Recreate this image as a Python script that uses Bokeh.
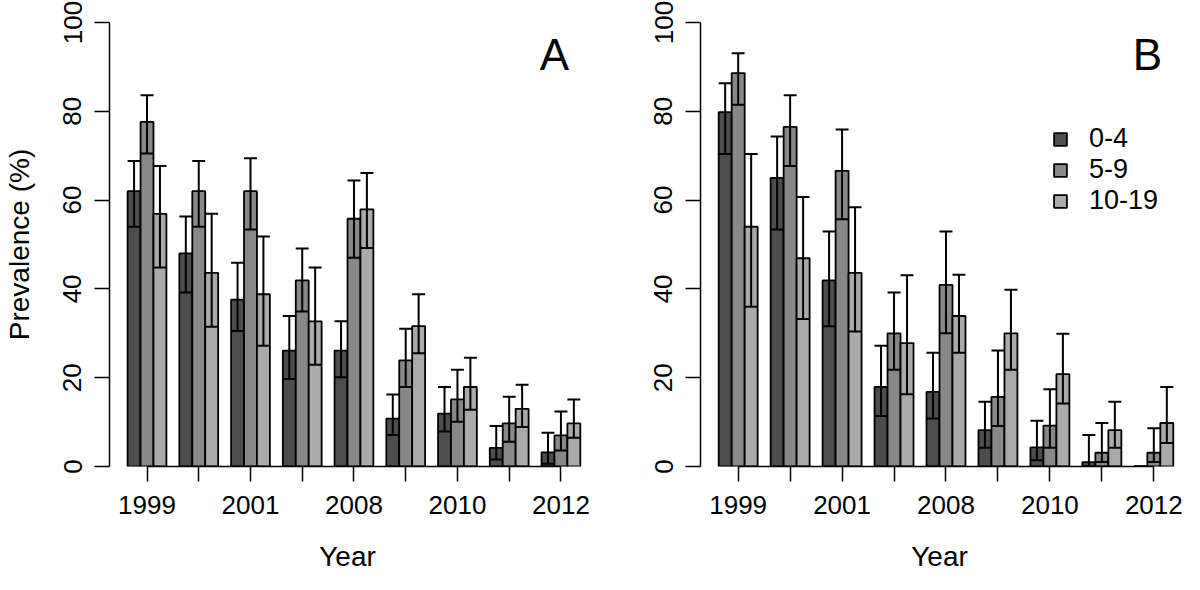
from bokeh.plotting import figure
from bokeh.models import (FixedTicker, Label, Legend, LegendItem,
                          ColumnDataSource, Range1d)
from bokeh.layouts import row
from bokeh.embed import file_html
from bokeh.resources import INLINE

# ---------------- data ----------------
years = ["1999", "2000", "2001", "2004", "2008", "2009", "2010", "2011", "2012"]
shown_years = ["1999", "2001", "2008", "2010", "2012"]
age_groups = ["0-4", "5-9", "10-19"]
colors = ["#4d4d4d", "#888888", "#aaaaaa"]
y_ticks = [0, 20, 40, 60, 80, 100]

# Panel A
A_mean_0_4 = [62.0, 48.0, 37.6, 26.1, 26.1, 10.8, 11.9, 4.2, 3.2]
A_low_0_4 = [54.0, 39.2, 30.5, 19.7, 20.1, 7.1, 7.9, 1.6, 0.6]
A_high_0_4 = [68.8, 56.3, 45.9, 33.9, 32.7, 16.2, 17.9, 9.1, 7.6]
A_mean_5_9 = [77.6, 62.0, 62.0, 41.9, 55.8, 23.9, 15.1, 9.7, 7.0]
A_low_5_9 = [70.5, 54.0, 53.4, 34.9, 47.0, 17.9, 10.1, 5.6, 3.6]
A_high_5_9 = [83.6, 68.8, 69.4, 49.1, 64.4, 31.0, 21.8, 15.7, 12.4]
A_mean_10_19 = [56.9, 43.6, 38.8, 32.7, 57.9, 31.6, 17.9, 13.0, 9.7]
A_low_10_19 = [44.8, 31.5, 27.2, 22.9, 49.2, 25.5, 12.8, 8.9, 6.5]
A_high_10_19 = [67.7, 56.9, 51.8, 44.8, 66.1, 38.8, 24.5, 18.4, 15.1]

# Panel B
B_mean_0_4 = [79.8, 65.0, 41.9, 17.9, 16.8, 8.2, 4.3, 1.0, 0.0]
B_low_0_4 = [70.4, 53.4, 31.6, 11.4, 10.8, 4.2, 1.4, 0.0, 0.0]
B_high_0_4 = [86.3, 74.3, 52.9, 27.2, 25.6, 14.6, 10.3, 7.1, 0.0]
B_mean_5_9 = [88.6, 76.5, 66.6, 30.0, 40.9, 15.7, 9.2, 3.1, 3.1]
B_low_5_9 = [81.5, 67.7, 55.7, 21.8, 30.0, 9.1, 4.2, 1.0, 1.0]
B_high_5_9 = [93.1, 83.6, 75.9, 39.2, 52.9, 26.1, 17.4, 9.8, 8.6]
B_mean_10_19 = [54.0, 46.9, 43.6, 27.8, 33.9, 30.0, 20.8, 8.2, 9.8]
B_low_10_19 = [36.0, 33.2, 30.4, 16.3, 25.6, 21.8, 14.2, 4.2, 5.3]
B_high_10_19 = [70.4, 60.7, 58.4, 43.1, 43.2, 39.8, 29.9, 14.6, 17.9]

FONT = "Liberation Sans"
TICK_FS = "26px"
LAB_FS = "28px"


def make_panel(tag, means, lows, highs, width, border_left, border_right,
               ylabel, show_legend):
    p = figure(width=width, height=574,
               x_range=Range1d(-0.4, 36.4), y_range=Range1d(0, 100),
               output_backend="svg", toolbar_location=None,
               min_border_left=border_left, min_border_right=border_right,
               min_border_top=22, min_border_bottom=106)
    p.outline_line_color = None
    p.xgrid.visible = False
    p.ygrid.visible = False
    p.background_fill_color = "white"
    p.border_fill_color = "white"

    n = len(years)
    centers = [2.5 + 4 * i for i in range(n)]
    bar_renderers = []
    sources = []
    for j, (m, lo, hi, c) in enumerate(zip(means, lows, highs, colors)):
        xs = [1.5 + 4 * i + j for i in range(n)]
        src = ColumnDataSource(dict(
            x=xs, top=m, lo=lo, hi=hi,
            xl=[x - 0.5 for x in xs], xr=[x + 0.5 for x in xs]))
        r = p.vbar(x="x", top="top", bottom=0, width=1, source=src,
                   fill_color=c, line_color="black", line_width=1.8)
        bar_renderers.append(r)
        sources.append(src)
    for src in sources:
        p.segment(x0="x", y0="lo", x1="x", y1="hi", source=src,
                  line_color="black", line_width=2)
        p.segment(x0="xl", y0="lo", x1="xr", y1="lo", source=src,
                  line_color="black", line_width=2)
        p.segment(x0="xl", y0="hi", x1="xr", y1="hi", source=src,
                  line_color="black", line_width=2)

    # x axis
    xa = p.xaxis[0]
    xa.ticker = FixedTicker(ticks=centers)
    xa.major_label_overrides = {c: (y if y in shown_years else "")
                                for c, y in zip(centers, years)}
    xa.bounds = (centers[0], centers[-1])
    xa.minor_tick_line_color = None
    xa.major_tick_out = 15
    xa.major_tick_in = 0
    xa.axis_line_width = 1.5
    xa.major_tick_line_width = 1.5
    xa.major_label_text_font = FONT
    xa.major_label_text_font_size = TICK_FS
    xa.major_label_text_color = "black"
    xa.major_label_standoff = 14
    xa.axis_label = "Year"
    xa.axis_label_text_font = FONT
    xa.axis_label_text_font_size = LAB_FS
    xa.axis_label_text_font_style = "normal"
    xa.axis_label_text_color = "black"
    xa.axis_label_standoff = 24

    # y axis
    ya = p.yaxis[0]
    ya.ticker = FixedTicker(ticks=y_ticks)
    ya.bounds = (0, 100)
    ya.minor_tick_line_color = None
    ya.major_tick_out = 15
    ya.major_tick_in = 0
    ya.axis_line_width = 1.5
    ya.major_tick_line_width = 1.5
    ya.major_label_orientation = "parallel"
    ya.major_label_text_font = FONT
    ya.major_label_text_font_size = TICK_FS
    ya.major_label_text_color = "black"
    ya.major_label_standoff = 13
    if ylabel:
        ya.axis_label = ylabel
        ya.axis_label_text_font = FONT
        ya.axis_label_text_font_size = LAB_FS
        ya.axis_label_text_font_style = "normal"
        ya.axis_label_text_color = "black"
        ya.axis_label_standoff = 26

    p.add_layout(Label(x=34.0, y=92.8, text=tag, text_font=FONT,
                       text_font_size="44px", text_align="center",
                       text_baseline="middle", text_color="black"))

    if show_legend:
        legend = Legend(
            items=[LegendItem(label=g, renderers=[r])
                   for g, r in zip(age_groups, bar_renderers)],
            location=(352, 250),
            label_text_font=FONT, label_text_font_size="27px",
            label_text_color="black",
            glyph_width=16, glyph_height=16, label_standoff=21,
            spacing=-4, padding=0, margin=0,
            border_line_color=None, background_fill_alpha=0)
        p.add_layout(legend)
    return p


pA = make_panel("A", [A_mean_0_4, A_mean_5_9, A_mean_10_19],
                [A_low_0_4, A_low_5_9, A_low_10_19],
                [A_high_0_4, A_high_5_9, A_high_10_19],
                width=600, border_left=107, border_right=15,
                ylabel="Prevalence (%)", show_legend=False)
pB = make_panel("B", [B_mean_0_4, B_mean_5_9, B_mean_10_19],
                [B_low_0_4, B_low_5_9, B_low_10_19],
                [B_high_0_4, B_high_5_9, B_high_10_19],
                width=584, border_left=100, border_right=6,
                ylabel=None, show_legend=True)

layout = row(pA, pB)
open("out.html", "w").write(file_html(layout, INLINE))
